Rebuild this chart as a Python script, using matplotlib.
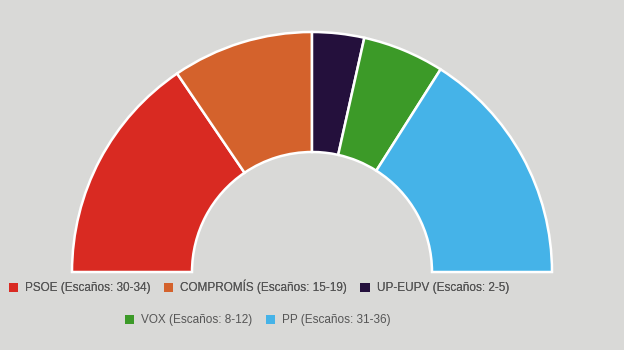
import matplotlib
matplotlib.use("Agg")
import matplotlib.pyplot as plt
from matplotlib.patches import Patch

parties = ["PSOE", "COMPROMÍS", "UP-EUPV", "VOX", "PP"]
seat_ranges = ["30-34", "15-19", "2-5", "8-12", "31-36"]
values = [31, 19, 7, 11, 32]
colors = ["#d92a22", "#d4622c", "#24103c", "#3c9a28", "#45b3e8"]

plt.rcParams['font.family'] = ['Liberation Sans', 'DejaVu Sans']

fig = plt.figure(figsize=(6.24, 3.5), dpi=100)
fig.patch.set_facecolor("#d9d9d7")
ax = fig.add_axes([0, 0, 1, 1])
ax.set_facecolor("#d9d9d7")

total = sum(values)
fracs = [v / (2 * total) for v in values]
wedges, _ = ax.pie(fracs, normalize=False, startangle=180, counterclock=False,
                   colors=colors, radius=240, center=(312, 78),
                   wedgeprops=dict(width=120, edgecolor="white", linewidth=1.8))
ax.set_xlim(0, 624)
ax.set_ylim(0, 350)
ax.set_aspect("equal")
ax.axis("off")

labels = [f"{p} (Escaños: {r})" for p, r in zip(parties, seat_ranges)]
handles = [Patch(facecolor=c, edgecolor="none") for c in colors]

common = dict(frameon=False, fontsize=8.5, labelcolor="#555555",
              handlelength=0.8, handleheight=0.8, handletextpad=0.6,
              columnspacing=1.1, borderaxespad=0)
leg1 = fig.legend(handles[:3], labels[:3], ncol=3, loc="center",
                  bbox_to_anchor=(0.415, 0.18), **common)
fig.legend(handles[3:], labels[3:], ncol=2, loc="center",
           bbox_to_anchor=(0.413, 0.085), **common)
fig.add_artist(leg1)

fig.savefig("out.png", dpi=100, facecolor=fig.get_facecolor())
